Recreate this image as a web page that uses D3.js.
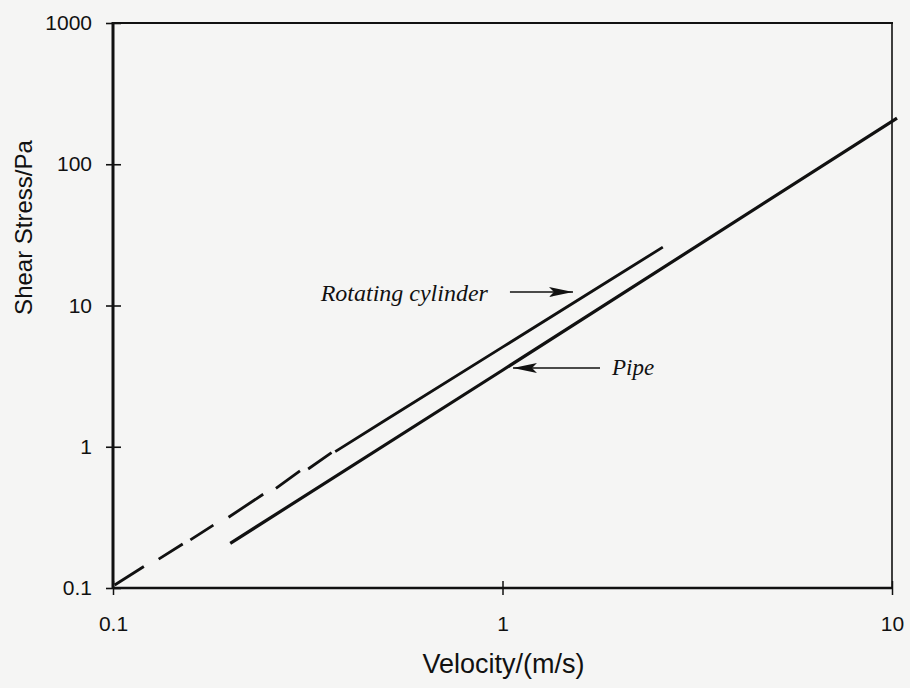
<!DOCTYPE html>
<html>
<head>
<meta charset="utf-8">
<script src="https://cdn.jsdelivr.net/npm/d3@7/dist/d3.min.js"></script>
<style>
  html, body { margin: 0; padding: 0; background: #f5f5f4; }
  svg { display: block; }
  .tick text { font-family: "Liberation Sans", Arial, sans-serif; fill: #111; }
</style>
</head>
<body>
<svg id="chart" width="910" height="688"></svg>
<script>
// Shear stress against velocity, log-log
const xTicks = [0.1, 1, 10];
const yTicks = [0.1, 1, 10, 100, 1000];
const xTickLabels = ["0.1", "1", "10"];
const yTickLabels = ["0.1", "1", "10", "100", "1000"];

// Pipe flow (solid line)
const pipeVelocity = [0.2, 1, 10, 10.3];
const pipeStress   = [0.207, 3.48, 201, 212];

// Rotating cylinder (broken at low speed, continuous above ~0.37 m/s)
const cylVelocity = [0.101, 0.120, null, 0.131, 0.151, null, 0.158, 0.181, null,
                     0.198, 0.243, null, 0.262, 0.302, null, 0.317, 0.364, null,
                     0.372, 0.5, 1, 2, 2.58];
const cylStress   = [0.105, 0.142, null, 0.160, 0.205, null, 0.219, 0.279, null,
                     0.317, 0.461, null, 0.508, 0.674, null, 0.696, 0.908, null,
                     0.923, 1.54, 5.07, 16.7, 25.9];

// Annotations: label text, arrow tail and tip in data units
const annLabels = ["Rotating cylinder", "Pipe"];
const annTail = [[1.045, 12.46], [1.78, 3.61]];
const annTip  = [[1.517, 12.46], [1.064, 3.61]];

const svg = d3.select("#chart");
const W = 910, H = 688;
const margin = { top: 23, right: 18, bottom: 100, left: 113 };

const x = d3.scaleLog().domain([0.1, 10]).range([margin.left, W - margin.right]);
const y = d3.scaleLog().domain([0.1, 1000]).range([H - margin.bottom, margin.top]);

const ink = "#111";

// minor ticks, drawn inward
function minors(domain) {
  const out = [];
  for (let p = Math.log10(domain[0]); p < Math.log10(domain[1]); p++) {
    for (let k = 2; k <= 9; k++) out.push(k * Math.pow(10, p));
  }
  return out;
}

const gx = svg.append("g").attr("transform", `translate(0,${y.range()[0]})`);
gx.call(d3.axisBottom(x).tickValues(minors(x.domain())).tickSize(-5).tickFormat(""));
gx.call(d3.axisBottom(x).tickValues(xTicks).tickSizeInner(7).tickSizeOuter(0).tickPadding(21)
  .tickFormat((d, i) => xTickLabels[i]));
gx.selectAll(".domain").remove();
gx.selectAll(".tick line").attr("stroke", ink).attr("stroke-width", 1.5);
gx.selectAll(".tick text").attr("font-size", 21);
gx.selectAll(".tick").filter(d => xTicks.includes(d)).append("line")
  .attr("y2", -7).attr("stroke", ink).attr("stroke-width", 1.5);

const gy = svg.append("g").attr("transform", `translate(${x.range()[0]},0)`);
gy.call(d3.axisLeft(y).tickValues(minors(y.domain())).tickSize(-6).tickFormat(""));
gy.call(d3.axisLeft(y).tickValues(yTicks).tickSizeInner(7).tickSizeOuter(0).tickPadding(14)
  .tickFormat((d, i) => yTickLabels[i]));
gy.selectAll(".domain").remove();
gy.selectAll(".tick line").attr("stroke", ink).attr("stroke-width", 1.6);
gy.selectAll(".tick text").attr("font-size", 21);
gy.selectAll(".tick").filter(d => yTicks.includes(d)).append("line")
  .attr("x2", 8).attr("stroke", ink).attr("stroke-width", 1.6);

// frame
const [x0, x1] = x.range(), [y0, y1] = y.range();
svg.append("line").attr("x1", x0).attr("x2", x0).attr("y1", y1 - 1).attr("y2", y0 + 1)
  .attr("stroke", ink).attr("stroke-width", 3);
svg.append("line").attr("x1", x0).attr("x2", x1).attr("y1", y0).attr("y2", y0)
  .attr("stroke", ink).attr("stroke-width", 2.5);
svg.append("line").attr("x1", x0).attr("x2", x1 + 1).attr("y1", y1).attr("y2", y1)
  .attr("stroke", ink).attr("stroke-width", 2.2);
svg.append("line").attr("x1", x1).attr("x2", x1).attr("y1", y1).attr("y2", y0)
  .attr("stroke", ink).attr("stroke-width", 1.6);

// curves
const line = d3.line()
  .defined(d => d[0] != null && d[1] != null)
  .x(d => x(d[0])).y(d => y(d[1]));

svg.append("path")
  .datum(pipeVelocity.map((v, i) => [v, pipeStress[i]]))
  .attr("d", line).attr("fill", "none").attr("stroke", ink).attr("stroke-width", 3.2);

svg.append("path")
  .datum(cylVelocity.map((v, i) => [v, cylStress[i]]))
  .attr("d", line).attr("fill", "none").attr("stroke", ink).attr("stroke-width", 2.8);

// annotation arrows
const defs = svg.append("defs");
defs.append("marker").attr("id", "head")
  .attr("viewBox", "0 0 24 12").attr("refX", 24).attr("refY", 6)
  .attr("markerWidth", 24).attr("markerHeight", 12).attr("markerUnits", "userSpaceOnUse")
  .attr("orient", "auto")
  .append("path").attr("d", "M0,1 L24,6 L0,11 L5,6 Z").attr("fill", ink);

annLabels.forEach((label, i) => {
  svg.append("line")
    .attr("x1", x(annTail[i][0])).attr("y1", y(annTail[i][1]))
    .attr("x2", x(annTip[i][0])).attr("y2", y(annTip[i][1]))
    .attr("stroke", ink).attr("stroke-width", 1.6)
    .attr("marker-end", "url(#head)");
});

const serif = "'Liberation Serif', 'Times New Roman', serif";
svg.append("text")
  .attr("x", x(annTail[0][0]) - 22).attr("y", y(annTail[0][1]) + 9)
  .attr("text-anchor", "end")
  .attr("font-family", serif)
  .attr("font-style", "italic").attr("font-size", 24).attr("fill", ink)
  .text(annLabels[0]);

svg.append("text")
  .attr("x", x(annTail[1][0]) + 12).attr("y", y(annTail[1][1]) + 7)
  .attr("text-anchor", "start")
  .attr("font-family", serif)
  .attr("font-style", "italic").attr("font-size", 23).attr("fill", ink)
  .text(annLabels[1]);

// axis titles
svg.append("text")
  .attr("x", (x0 + x1) / 2 + 1).attr("y", 673)
  .attr("text-anchor", "middle")
  .attr("font-family", "'Liberation Sans', Arial, sans-serif")
  .attr("font-size", 27).attr("fill", ink)
  .text("Velocity/(m/s)");

svg.append("text")
  .attr("transform", `translate(32,${(y0 + y1) / 2 - 78}) rotate(-90)`)
  .attr("text-anchor", "middle")
  .attr("font-family", "'Liberation Sans', Arial, sans-serif")
  .attr("font-size", 24).attr("fill", ink)
  .text("Shear Stress/Pa");
</script>
</body>
</html>
